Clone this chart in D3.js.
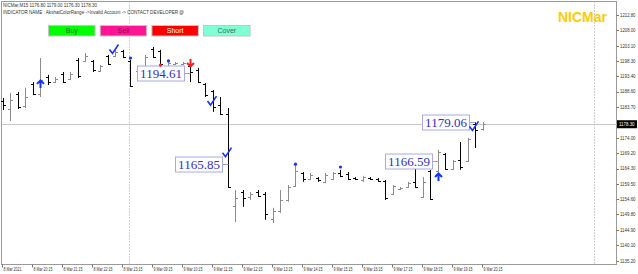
<!DOCTYPE html>
<html lang="en">
<head>
    <meta charset="UTF-8"/>
    <title>NICMar M15</title>
    <script src="https://d3js.org/d3.v7.min.js"></script>
    <style>
        body { margin: 0; background: #fff; }
        text { font-family: "Liberation Sans", "DejaVu Sans", sans-serif; }
        .axis-label { font-size: 5px; fill: #333; }
        .price-label { font-family: "Liberation Serif", serif; font-size: 13px; fill: #2f2fc8; }
    </style>
</head>
<body></body>
<script type="text/javascript">
    let width = 638,
        height = 274;

    // OHLC values of the M15 bars, left to right
    let opens = [1185.5, 1183.0, 1187.8, 1184.2, 1191.0, 1188.0, 1193.2, 1191.6, 1194.2, 1192.6,
        1198.6, 1198.3, 1198.3, 1195.1, 1199.9, 1199.8, 1201.4, 1198.3, 1195.1, 1193.0,
        1202.0, 1201.4, 1196.4, 1197.3, 1197.2, 1196.7, 1195.4, 1191.0, 1188.8, 1184.4,
        1181.5, 1152.5, 1156.9, 1155.3, 1156.9, 1156.3, 1148.5, 1151.0, 1154.4, 1158.8,
        1163.0, 1161.0, 1161.3, 1160.0, 1161.0, 1163.0, 1162.6, 1161.3, 1160.7, 1161.3,
        1161.0, 1160.4, 1156.2, 1157.8, 1158.5, 1160.0, 1155.3, 1163.5, 1163.5, 1168.9,
        1164.2, 1167.0, 1166.8, 1178.5, 1176.8];
    let highs = [1186.6, 1188.2, 1188.5, 1189.8, 1191.6, 1199.2, 1193.9, 1193.2, 1194.8, 1194.8,
        1199.2, 1200.8, 1198.6, 1197.0, 1200.2, 1201.8, 1201.8, 1198.6, 1196.4, 1200.2,
        1202.7, 1201.8, 1198.0, 1198.0, 1198.0, 1197.0, 1196.1, 1191.3, 1189.1, 1186.9,
        1183.4, 1157.5, 1157.5, 1156.9, 1157.5, 1156.9, 1151.9, 1157.5, 1159.1, 1165.4,
        1163.2, 1162.9, 1161.6, 1162.9, 1163.2, 1163.9, 1163.2, 1161.6, 1162.0, 1161.6,
        1161.3, 1160.7, 1159.1, 1158.5, 1160.1, 1168.0, 1161.6, 1163.9, 1170.2, 1169.2,
        1167.0, 1172.7, 1174.0, 1179.0, 1179.0];
    let lows = [1182.8, 1179.3, 1183.1, 1183.4, 1187.5, 1186.9, 1190.7, 1191.3, 1191.3, 1192.3,
        1192.9, 1198.0, 1194.8, 1194.8, 1197.0, 1199.5, 1199.2, 1190.1, 1194.8, 1192.3,
        1199.2, 1197.0, 1196.1, 1197.0, 1197.0, 1191.6, 1191.3, 1186.9, 1182.2, 1181.2,
        1158.2, 1147.4, 1152.2, 1154.4, 1155.3, 1148.1, 1147.1, 1150.3, 1153.8, 1158.5,
        1160.1, 1160.7, 1160.1, 1159.7, 1160.7, 1161.6, 1160.7, 1160.7, 1160.1, 1160.7,
        1160.1, 1154.4, 1155.9, 1157.5, 1158.2, 1158.2, 1155.0, 1154.4, 1163.2, 1163.9,
        1163.9, 1163.9, 1166.4, 1170.8, 1176.3];
    let closes = [1184.4, 1186.0, 1183.8, 1186.9, 1187.9, 1192.3, 1191.6, 1192.6, 1191.6, 1194.2,
        1193.5, 1199.8, 1195.4, 1196.7, 1197.4, 1201.1, 1199.5, 1190.4, 1196.1, 1199.5,
        1199.5, 1197.3, 1197.6, 1197.6, 1197.7, 1194.8, 1191.6, 1187.5, 1183.8, 1181.6,
        1158.5, 1155.0, 1155.0, 1156.3, 1155.6, 1150.0, 1150.9, 1154.5, 1158.5, 1163.5,
        1161.0, 1162.3, 1160.7, 1162.3, 1162.9, 1162.0, 1161.0, 1161.0, 1161.6, 1161.0,
        1160.4, 1155.0, 1158.8, 1158.2, 1159.7, 1158.5, 1160.0, 1154.7, 1169.5, 1164.2,
        1166.7, 1164.8, 1173.5, 1176.5, 1178.3];

    // time axis labels, one every 4 bars
    let timeLabels = ["8 Mar 2021", "8 Mar 20:15", "8 Mar 21:15", "8 Mar 22:15", "8 Mar 23:15",
        "9 Mar 09:15", "9 Mar 10:15", "9 Mar 11:15", "9 Mar 12:15", "9 Mar 13:15", "9 Mar 14:15",
        "9 Mar 15:15", "9 Mar 16:15", "9 Mar 17:15", "9 Mar 18:15", "9 Mar 19:15", "9 Mar 20:15"];
    // the 1178.90 level sits under the last price box
    let priceTicks = [1212.80, 1208.00, 1203.10, 1198.30, 1193.40, 1188.60, 1183.70,
        1174.00, 1169.20, 1164.30, 1159.50, 1154.60, 1149.80, 1144.90, 1140.10, 1135.20];

    // day separators (bar index)
    let daySeparators = [17, 79];
    let lastPrice = 1178.30;

    // indicator marks
    let checkBars = [15, 28, 30, 63],
        checkPrices = [1201.6, 1185.3, 1169.0, 1177.3];
    let buyArrowBars = [5, 58],
        buyArrowPrices = [1192.3, 1162.9];
    let sellArrowBars = [25],
        sellArrowPrices = [1196.4];
    let blueDotBars = [17, 22, 39, 45],
        blueDotPrices = [1199.2, 1198.3, 1165.7, 1164.8];
    let redDotBars = [21],
        redDotPrices = [1197.0];
    let labelBars = [25, 30, 58, 63],
        labelPrices = [1194.61, 1165.85, 1166.59, 1179.06];

    let buttons = ["Buy", "Sell", "Short", "Cover"];

    let plotL = 1.5, plotT = 1.5, plotR = 616.5, plotB = 264.5;

    let svg = d3.select("body").append("svg")
        .attr("width", width)
        .attr("height", height);

    let scaleX = d3.scaleLinear().domain([0, 64]).range([2.5, 482.5]);
    let scaleY = d3.scaleLinear().domain([1135.2, 1212.8]).range([260.7, 15]);
    let px = i => Math.round(scaleX(i)) + 0.5;

    // frame
    svg.append("rect")
        .attr("x", plotL).attr("y", plotT)
        .attr("width", plotR - plotL).attr("height", plotB - plotT)
        .attr("fill", "none").attr("stroke", "#9a9a9a");

    // day separators
    svg.selectAll(".sep")
        .data(daySeparators)
        .enter().append("line")
        .attr("x1", d => px(d) - 1).attr("x2", d => px(d) - 1)
        .attr("y1", plotT).attr("y2", plotB)
        .attr("stroke", "#a0a0a0")
        .attr("stroke-dasharray", "1,2");

    // last price line
    svg.append("line")
        .attr("x1", plotL).attr("x2", plotR)
        .attr("y1", Math.round(scaleY(lastPrice)) + 0.5)
        .attr("y2", Math.round(scaleY(lastPrice)) + 0.5)
        .attr("stroke", "#c8c8c8");

    // header text
    svg.append("text").attr("class", "axis-label")
        .attr("x", 3).attr("y", 7)
        .attr("textLength", 94).attr("lengthAdjust", "spacingAndGlyphs")
        .text("NICMar,M15  1176.80 1179.00 1176.30 1178.30");
    svg.append("text").attr("class", "axis-label")
        .attr("x", 3).attr("y", 13.5)
        .attr("textLength", 181).attr("lengthAdjust", "spacingAndGlyphs")
        .text("INDICATOR NAME : AkshatColorRange ->Invalid Account -> CONTACT DEVELOPER @");

    // buttons
    let btnFill = ["#00ff00", "#ff1493", "#ff0000", "#7fffd4"],
        btnText = ["#1a7a1a", "#7a1060", "#ffffff", "#3c6a60"];
    let btn = svg.selectAll(".btn")
        .data(buttons)
        .enter().append("g")
        .attr("transform", (d, i) => "translate(" + (48.5 + i * 51.7) + ",25.5)");
    btn.append("rect")
        .attr("width", 46.5).attr("height", 10.5)
        .attr("fill", (d, i) => btnFill[i])
        .attr("stroke", "#c4c4c4");
    btn.append("text")
        .attr("x", 23.25).attr("y", 7.8)
        .attr("text-anchor", "middle")
        .style("font-size", "7px")
        .attr("fill", (d, i) => btnText[i])
        .text(d => d);

    // NICMar title
    svg.append("text")
        .attr("x", 607).attr("y", 22)
        .attr("text-anchor", "end")
        .style("font-size", "14px").style("font-weight", "bold")
        .attr("fill", "#ffcc00")
        .text("NICMar");

    // price axis
    let yAxis = svg.append("g");
    yAxis.selectAll("line")
        .data(priceTicks)
        .enter().append("line")
        .attr("x1", plotR).attr("x2", plotR + 2.5)
        .attr("y1", d => Math.round(scaleY(d)) + 0.5)
        .attr("y2", d => Math.round(scaleY(d)) + 0.5)
        .attr("stroke", "#777");
    yAxis.selectAll("text")
        .data(priceTicks)
        .enter().append("text")
        .attr("class", "axis-label")
        .attr("x", 620).attr("y", d => scaleY(d) + 1.8)
        .attr("textLength", 15.5).attr("lengthAdjust", "spacingAndGlyphs")
        .text(d => d.toFixed(2));

    // last price box
    svg.append("rect")
        .attr("x", 617).attr("y", scaleY(lastPrice) - 4)
        .attr("width", 20).attr("height", 8)
        .attr("fill", "#000");
    svg.append("text")
        .attr("class", "axis-label")
        .attr("x", 619).attr("y", scaleY(lastPrice) + 1.8)
        .attr("textLength", 15.5).attr("lengthAdjust", "spacingAndGlyphs")
        .style("fill", "#fff")
        .text(lastPrice.toFixed(2));

    // time axis
    let xAxis = svg.append("g");
    xAxis.selectAll("line")
        .data(timeLabels)
        .enter().append("line")
        .attr("x1", (d, i) => px(i * 4) - 1).attr("x2", (d, i) => px(i * 4) - 1)
        .attr("y1", plotB).attr("y2", plotB + 3)
        .attr("stroke", "#777");
    xAxis.selectAll("text")
        .data(timeLabels)
        .enter().append("text")
        .attr("class", "axis-label")
        .attr("x", (d, i) => px(i * 4))
        .attr("y", 271)
        .attr("textLength", (d, i) => i === 0 ? 18 : 19)
        .attr("lengthAdjust", "spacingAndGlyphs")
        .text(d => d);

    // OHLC bars
    let bars = svg.append("g")
        .selectAll("g")
        .data(d3.range(opens.length))
        .enter().append("g")
        .attr("stroke", i => closes[i] >= opens[i] ? "#8c8c8c" : "#000")
        .attr("stroke-width", 1);
    bars.append("line")
        .attr("x1", px).attr("x2", px)
        .attr("y1", i => scaleY(highs[i]))
        .attr("y2", i => scaleY(lows[i]));
    bars.append("line")
        .attr("x1", i => px(i) - 2.5).attr("x2", px)
        .attr("y1", i => Math.round(scaleY(opens[i])) + 0.5)
        .attr("y2", i => Math.round(scaleY(opens[i])) + 0.5);
    bars.append("line")
        .attr("x1", px).attr("x2", i => px(i) + 2.5)
        .attr("y1", i => Math.round(scaleY(closes[i])) + 0.5)
        .attr("y2", i => Math.round(scaleY(closes[i])) + 0.5);

    // price labels with leader
    let lab = svg.selectAll(".lab")
        .data(labelBars)
        .enter().append("g");
    lab.append("line")
        .attr("x1", d => px(d) - 6).attr("x2", d => px(d))
        .attr("y1", (d, i) => Math.round(scaleY(labelPrices[i])) + 0.5)
        .attr("y2", (d, i) => Math.round(scaleY(labelPrices[i])) + 0.5)
        .attr("stroke", "#9a9ae6");
    lab.append("rect")
        .attr("x", d => px(d) - 53)
        .attr("y", (d, i) => Math.round(scaleY(labelPrices[i])) - 7)
        .attr("width", 47).attr("height", 15)
        .attr("fill", "#fff")
        .attr("stroke", "#a8a8ea");
    lab.append("text")
        .attr("class", "price-label")
        .attr("x", d => px(d) - 29.5)
        .attr("y", (d, i) => Math.round(scaleY(labelPrices[i])) + 5)
        .attr("text-anchor", "middle")
        .text((d, i) => labelPrices[i].toFixed(2));

    // check marks
    svg.selectAll(".chk")
        .data(checkBars)
        .enter().append("path")
        .attr("d", (d, i) => {
            let cx = px(d) - 2, cy = scaleY(checkPrices[i]);
            return "M" + (cx - 4) + "," + (cy - 1) + " L" + (cx - 1) + "," + (cy + 3) +
                " L" + (cx + 5) + "," + (cy - 6);
        })
        .attr("fill", "none")
        .attr("stroke", "#1432ff")
        .attr("stroke-width", 1.6);

    // arrows
    svg.selectAll(".buy")
        .data(buyArrowBars)
        .enter().append("path")
        .attr("d", (d, i) => {
            let x = px(d), t = scaleY(buyArrowPrices[i]);
            return "M" + x + "," + (t + 8) + " L" + x + "," + (t + 1) +
                " M" + (x - 3.5) + "," + (t + 4) + " L" + x + "," + (t + 0.5) + " L" + (x + 3.5) + "," + (t + 4);
        })
        .attr("fill", "none")
        .attr("stroke", "#1432ff")
        .attr("stroke-width", 2);
    svg.selectAll(".sell")
        .data(sellArrowBars)
        .enter().append("path")
        .attr("d", (d, i) => {
            let x = px(d), t = scaleY(sellArrowPrices[i]);
            return "M" + x + "," + (t - 8) + " L" + x + "," + (t - 1) +
                " M" + (x - 3.5) + "," + (t - 4) + " L" + x + "," + (t - 0.5) + " L" + (x + 3.5) + "," + (t - 4);
        })
        .attr("fill", "none")
        .attr("stroke", "#ff1a1a")
        .attr("stroke-width", 2);

    // dots
    svg.selectAll(".bdot")
        .data(blueDotBars)
        .enter().append("circle")
        .attr("cx", px)
        .attr("cy", (d, i) => scaleY(blueDotPrices[i]))
        .attr("r", 1.6)
        .attr("fill", "#1432ff");
    svg.selectAll(".rdot")
        .data(redDotBars)
        .enter().append("circle")
        .attr("cx", px)
        .attr("cy", (d, i) => scaleY(redDotPrices[i]))
        .attr("r", 1.6)
        .attr("fill", "#ff1a1a");
</script>
</html>
